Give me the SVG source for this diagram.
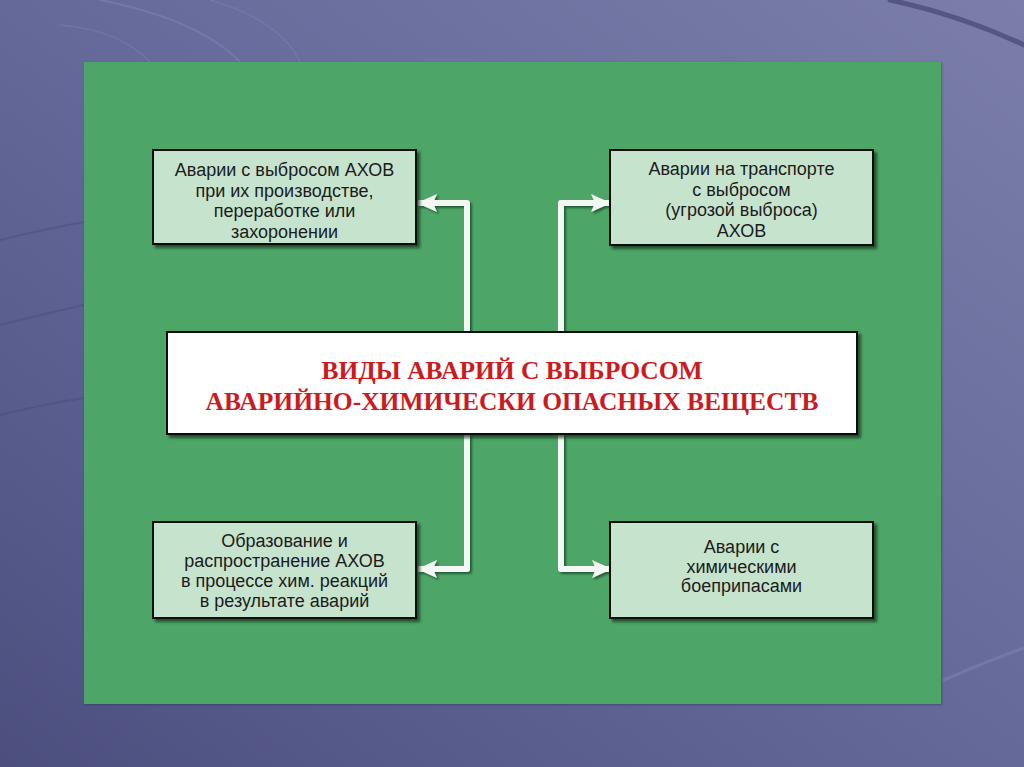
<svg xmlns="http://www.w3.org/2000/svg" width="1024" height="767" viewBox="0 0 1024 767">
<defs>
<linearGradient id="bg" x1="1" y1="0" x2="0" y2="1">
<stop offset="0" stop-color="#7a7ea8"/>
<stop offset="0.5" stop-color="#65699a"/>
<stop offset="1" stop-color="#4c4f7e"/>
</linearGradient>
<filter id="sh" x="-10%" y="-10%" width="130%" height="130%">
<feDropShadow dx="3" dy="3" stdDeviation="1.5" flood-color="#0d2a16" flood-opacity="0.7"/>
</filter>
<filter id="psh" x="-5%" y="-5%" width="110%" height="110%">
<feDropShadow dx="1" dy="1" stdDeviation="1" flood-color="#2a2c50" flood-opacity="0.4"/>
</filter>
<filter id="lsh" x="-20%" y="-20%" width="150%" height="150%">
<feDropShadow dx="2" dy="2" stdDeviation="1.2" flood-color="#123a1e" flood-opacity="0.7"/>
</filter>
<marker id="ah" viewBox="0 0 20 18" refX="19" refY="9" markerWidth="20" markerHeight="18" markerUnits="userSpaceOnUse" orient="auto">
<path d="M0,0 L20,9 L0,18 L4,9 Z" fill="#f4f8f4"/>
</marker>
</defs>
<style>
.box{fill:#c6e3cd;stroke:#111;stroke-width:2}
.t{font-family:"Liberation Sans",Arial,sans-serif;font-size:18px;fill:#1c1c1c;text-anchor:middle}
.h{font-family:"Liberation Serif","Times New Roman",serif;font-size:25.5px;font-weight:bold;fill:#cc1a1f;text-anchor:middle}
.c{fill:none;stroke:#f4f8f4;stroke-width:6;stroke-linejoin:round}
</style>
<rect width="1024" height="767" fill="url(#bg)"/>
<g fill="none" stroke-linecap="round">
<path d="M890,0 Q960,15 1024,45" stroke="#4a4d78" stroke-width="5" opacity="0.8"/>
<path d="M100,0 Q200,20 240,62" stroke="#8a8db5" stroke-width="2" opacity="0.4"/>
<path d="M60,25 Q120,30 150,62" stroke="#8a8db5" stroke-width="1.5" opacity="0.3"/>
<path d="M210,0 Q280,20 300,62" stroke="#8a8db5" stroke-width="1.5" opacity="0.3"/>
<path d="M0,240 Q40,230 84,222" stroke="#4a4d78" stroke-width="2" opacity="0.5"/>
<path d="M0,325 Q40,315 84,305" stroke="#4a4d78" stroke-width="2" opacity="0.5"/>
<path d="M0,415 Q40,405 84,398" stroke="#4a4d78" stroke-width="2" opacity="0.5"/>
<path d="M944,680 Q990,660 1024,648" stroke="#8a8db5" stroke-width="3" opacity="0.4"/>
</g>
<rect x="84" y="62" width="857" height="642" fill="#4ea667" filter="url(#psh)"/>
<g id="connectors" filter="url(#lsh)">
<polyline class="c" points="467,332 467,203 418,203" marker-end="url(#ah)"/>
<polyline class="c" points="561,332 561,203 610,203" marker-end="url(#ah)"/>
<polyline class="c" points="467,434 467,569 418,569" marker-end="url(#ah)"/>
<polyline class="c" points="561,434 561,569 611,569" marker-end="url(#ah)"/>
</g>
<g id="center" filter="url(#sh)">
<rect x="167" y="332" width="690" height="102" fill="#ffffff" stroke="#111" stroke-width="2"/>
</g>
<g id="center-text">
<text class="h" x="512" y="379">ВИДЫ АВАРИЙ С ВЫБРОСОМ</text>
<text class="h" x="512" y="410">АВАРИЙНО-ХИМИЧЕСКИ ОПАСНЫХ ВЕЩЕСТВ</text>
</g>
<g id="node-tl">
<rect class="box" x="153" y="150" width="263" height="94" filter="url(#sh)"/>
<text class="t" x="284.5" y="176">Аварии с выбросом АХОВ</text>
<text class="t" x="284.5" y="196.5">при их производстве,</text>
<text class="t" x="284.5" y="217">переработке или</text>
<text class="t" x="284.5" y="237.5">захоронении</text>
</g>
<g id="node-tr">
<rect class="box" x="610" y="150" width="263" height="95" filter="url(#sh)"/>
<text class="t" x="741.5" y="175">Аварии на транспорте</text>
<text class="t" x="741.5" y="195.5">с выбросом</text>
<text class="t" x="741.5" y="216">(угрозой выброса)</text>
<text class="t" x="741.5" y="236.5">АХОВ</text>
</g>
<g id="node-bl">
<rect class="box" x="153" y="522" width="263" height="96" filter="url(#sh)"/>
<text class="t" x="284.5" y="547">Образование и</text>
<text class="t" x="284.5" y="567">распространение АХОВ</text>
<text class="t" x="284.5" y="587">в процессе хим. реакций</text>
<text class="t" x="284.5" y="607">в результате аварий</text>
</g>
<g id="node-br">
<rect class="box" x="610" y="522" width="263" height="96" filter="url(#sh)"/>
<text class="t" x="741.5" y="553">Аварии с</text>
<text class="t" x="741.5" y="572.5">химическими</text>
<text class="t" x="741.5" y="592">боеприпасами</text>
</g>
</svg>
